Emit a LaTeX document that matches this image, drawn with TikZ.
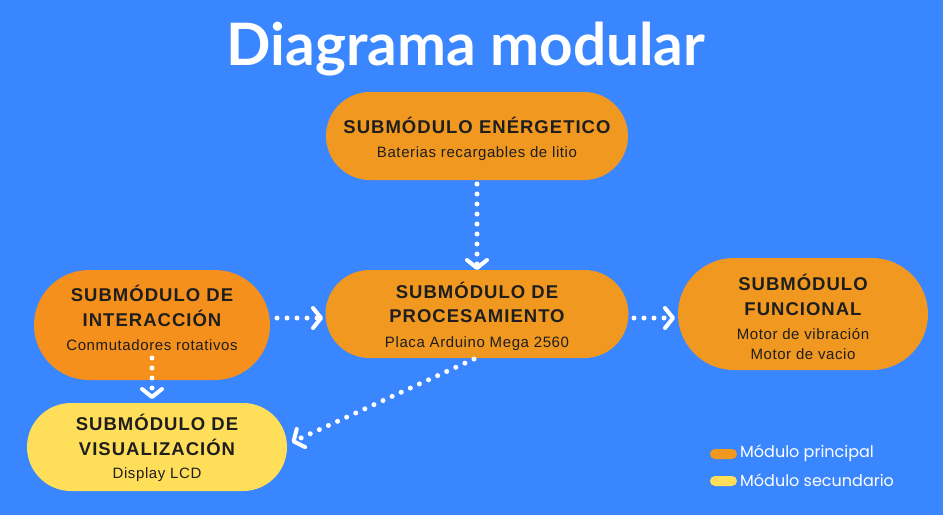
\documentclass[tikz,border=0pt]{standalone}
\usepackage{fontspec}
\setmainfont{Liberation Sans}
\newfontfamily\titlefont{Lato}
\newfontfamily\legfont{Poppins}
\newfontfamily\boldsp{Liberation Sans}[LetterSpace=5.5]
\newfontfamily\subsp{Liberation Sans}[LetterSpace=4]
\usetikzlibrary{arrows.meta}
\definecolor{bgblue}{HTML}{3A86FF}
\definecolor{orangeA}{HTML}{F0981F}
\definecolor{orangeB}{HTML}{F6901C}
\definecolor{yellowA}{HTML}{FFDE59}
\definecolor{txt}{HTML}{1E1E1E}
\newcommand\mtt[1]{{\boldsp\bfseries #1}}
\newcommand\msb[1]{{\subsp\fontsize{15}{20}\selectfont #1}}
\tikzset{
  x=1pt, y=-1pt,
  modbox/.style={rectangle, rounded corners=44pt, inner sep=0pt},
  modtext/.style={align=center, text=txt, inner sep=0pt, font=\fontsize{18.5}{24.5}\selectfont},
  flow/.style={white, line width=5pt, line cap=round, dash pattern=on 0pt off 10pt,
    -{Straight Barb[length=8pt, width=20pt, line width=4pt, round]}, shorten >=2pt},
  legtext/.style={anchor=west, text=white, font=\legfont\fontsize{16}{18}\selectfont, inner sep=0pt},
}
\begin{document}
\begin{tikzpicture}
\fill[bgblue] (0,0) rectangle (943,515);
\useasboundingbox (0,0) rectangle (943,515);
\node[text=white, font=\titlefont\bfseries\fontsize{58.5}{64}\selectfont, anchor=base] (title) at (466,65) {Diagrama modular};

\node[modbox, fill=orangeA, minimum width=302pt, minimum height=88pt] (ener) at (477,136) {};
\node[modtext] (enert) at (477,139)
  {\mtt{SUBMÓDULO ENÉRGETICO}\\\msb{Baterias recargables de litio}};
\node[modbox, fill=orangeB, minimum width=236pt, minimum height=110pt, rounded corners=55pt] (inter) at (152,325) {};
\node[modtext] (intert) at (152,318)
  {\mtt{SUBMÓDULO DE}\\\mtt{INTERACCIÓN}\\\msb{Conmutadores rotativos}};
\node[modbox, fill=orangeA, minimum width=303pt, minimum height=88pt] (proc) at (477,314) {};
\node[modtext] (proct) at (477,316)
  {\mtt{SUBMÓDULO DE}\\\mtt{PROCESAMIENTO}\\\msb{Placa Arduino Mega 2560}};
\node[modbox, fill=orangeA, minimum width=250pt, minimum height=112pt, rounded corners=56pt] (func) at (803,314) {};
\node[modtext] (funct) at (803,317)
  {\mtt{SUBMÓDULO}\\\mtt{FUNCIONAL}\\\msb{Motor de vibración}\\[-4.5pt]\msb{Motor de vacio}};
\node[modbox, fill=yellowA, minimum width=260pt, minimum height=88pt] (visu) at (157,447) {};
\node[modtext] (visut) at (157,448)
  {\mtt{SUBMÓDULO DE}\\\mtt{VISUALIZACIÓN}\\[-1pt]\msb{Display LCD}};

\coordinate (e1) at (477,184);
\coordinate (e2) at (477,272);
\draw[flow] (e1) -- (e2);
\coordinate (i1) at (277,318);
\coordinate (i2) at (325,318);
\draw[flow] (i1) -- (i2);
\coordinate (p1) at (634,318);
\coordinate (p2) at (677,318);
\draw[flow] (p1) -- (p2);
\coordinate (d1) at (152,358);
\coordinate (d2) at (152,401);
\draw[flow] (d1) -- (d2);
\coordinate (v1) at (474,359);
\coordinate (v2) at (290,443);
\draw[flow] (v1) -- (v2);

\fill[orangeA, rounded corners=5pt] (710,449) rectangle (737,459);
\node[legtext] (l1) at (740,453) {Módulo principal};
\fill[yellowA, rounded corners=5pt] (710,476) rectangle (737,486);
\node[legtext] (l2) at (740,480) {Módulo secundario};
\end{tikzpicture}
\end{document}
